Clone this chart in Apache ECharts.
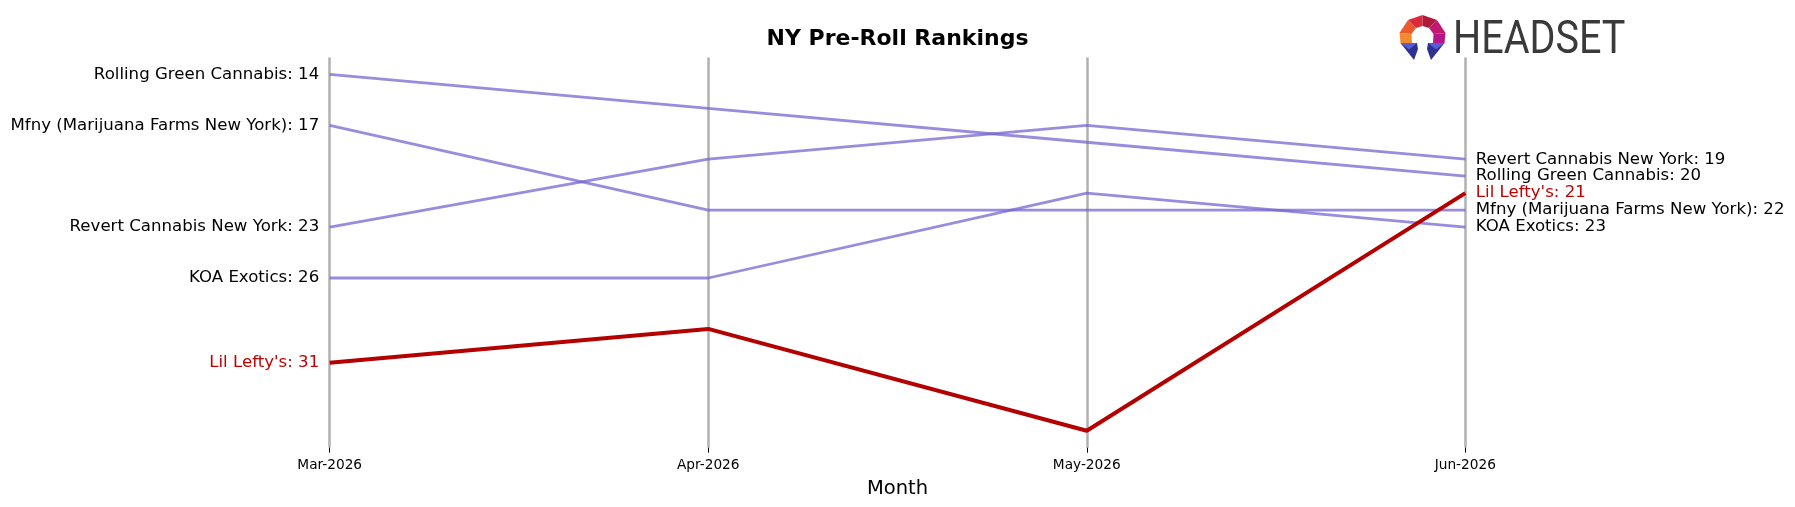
<!DOCTYPE html>
<html>
<head>
<meta charset="utf-8">
<title>NY Pre-Roll Rankings</title>
<script src="https://cdn.jsdelivr.net/npm/echarts@6/dist/echarts.min.js"></script>
<style>
html,body{margin:0;padding:0;background:#fff;}
#chart{width:1795px;height:507px;}
</style>
</head>
<body>
<div id="chart"></div>
<script>
// months on the x axis
var months = ['Mar-2026', 'Apr-2026', 'May-2026', 'Jun-2026'];

// rank per month, one array per brand
var rollingGreen = [14, 16, 18, 20];
var mfny = [17, 22, 22, 22];
var revert = [23, 19, 17, 19];
var koa = [26, 26, 21, 23];
var lilLefty = [31, 29, 35, 21];

var brandNames = ['Rolling Green Cannabis', 'Mfny (Marijuana Farms New York)', 'Revert Cannabis New York', 'KOA Exotics', "Lil Lefty's"];
var brandRanks = [rollingGreen, mfny, revert, koa, lilLefty];
var focusBrand = "Lil Lefty's";

// y range (rank axis, inverted)
var rankMin = 13;
var rankMax = 36;

function makeSeries(name, ranks) {
	var isFocus = name === focusBrand;
	var textColor = isFocus ? '#c00000' : '#000';
	var data = ranks.map(function (r, i) {
		var item = {value: r};
		if (i === 0 || i === ranks.length - 1) {
			item.label = {
				show: true,
				position: i === 0 ? 'left' : 'right',
				distance: 10,
				formatter: name + ': ' + r,
				color: textColor,
				fontSize: 16.6,
				fontFamily: 'DejaVu Sans'
			};
		}
		return item;
	});
	return {
		type: 'line',
		name: name,
		data: data,
		symbol: 'circle',
		symbolSize: 1,
		itemStyle: {color: 'rgba(0,0,0,0)'},
		lineStyle: {
			color: isFocus ? '#b30000' : 'rgba(120,100,210,0.75)',
			width: isFocus ? 4 : 2.8
		},
		z: isFocus ? 4 : 2,
		emphasis: {disabled: true},
		silent: true
	};
}

var series = [];
for (var i = 0; i < brandNames.length; i++) {
	series.push(makeSeries(brandNames[i], brandRanks[i]));
}

// headset logo (icon pieces + word)
function poly(points, fill) {
	return {type: 'polygon', shape: {points: points}, style: {fill: fill}, silent: true};
}
var logo = [
	poly([[1400.5,43],[1399.5,33],[1411.5,34],[1412,43]], '#f28a2e'),
	poly([[1399.5,33],[1408,20],[1416,28],[1411.5,34]], '#ec5a2c'),
	poly([[1408,20],[1422.5,15],[1422.5,26],[1416,28]], '#dc2a3c'),
	poly([[1422.5,15],[1437,20],[1429,28],[1422.5,26]], '#ae1a3c'),
	poly([[1437,20],[1445.5,33],[1433.5,34],[1429,28]], '#c2186f'),
	poly([[1445.5,33],[1444.5,43],[1433,43],[1433.5,34]], '#b5178a'),
	poly([[1400.5,43],[1417,43],[1418,49],[1414,60]], '#2e3192'),
	poly([[1400.5,43],[1417,43],[1409,49.5]], '#5b5bd6'),
	poly([[1428,43],[1444.5,43],[1431,60],[1427,49]], '#2e3192'),
	poly([[1428,43],[1444.5,43],[1436,49.5]], '#5b5bd6'),
	{
		type: 'text',
		x: 1453,
		y: 41,
		scaleX: 0.86,
		silent: true,
		style: {
			text: 'HEADSET',
			fontFamily: 'Roboto',
			fontSize: 46,
			fill: '#3a3a3a',
			align: 'left',
			verticalAlign: 'middle'
		}
	}
];

var myChart = echarts.init(document.getElementById('chart'));
var option = {
	animation: false,
	backgroundColor: '#fff',
	textStyle: {fontFamily: 'DejaVu Sans'},
	title: {
		text: 'NY Pre-Roll Rankings',
		left: 'center',
		top: 23,
		textStyle: {fontSize: 22, fontWeight: 'bold', color: '#000', fontFamily: 'DejaVu Sans'}
	},
	grid: {
		left: 329.7,
		right: 329.7,
		top: 57.4,
		bottom: 59.3,
		outerBoundsMode: 'none'
	},
	xAxis: {
		type: 'category',
		data: months,
		boundaryGap: false,
		axisLine: {show: false},
		axisTick: {show: true, length: 5, lineStyle: {color: '#000', width: 1}},
		axisLabel: {fontSize: 13.7, color: '#000', margin: 11, fontFamily: 'DejaVu Sans'},
		splitLine: {show: true, lineStyle: {color: '#b0b0b0', width: 2.5}},
		name: 'Month',
		nameLocation: 'middle',
		nameGap: 31,
		nameTextStyle: {fontSize: 19.5, color: '#000', fontFamily: 'DejaVu Sans'}
	},
	yAxis: {
		type: 'value',
		inverse: true,
		min: rankMin,
		max: rankMax,
		show: false,
		splitLine: {show: false}
	},
	graphic: logo,
	series: series
};
myChart.setOption(option);
</script>
</body>
</html>
